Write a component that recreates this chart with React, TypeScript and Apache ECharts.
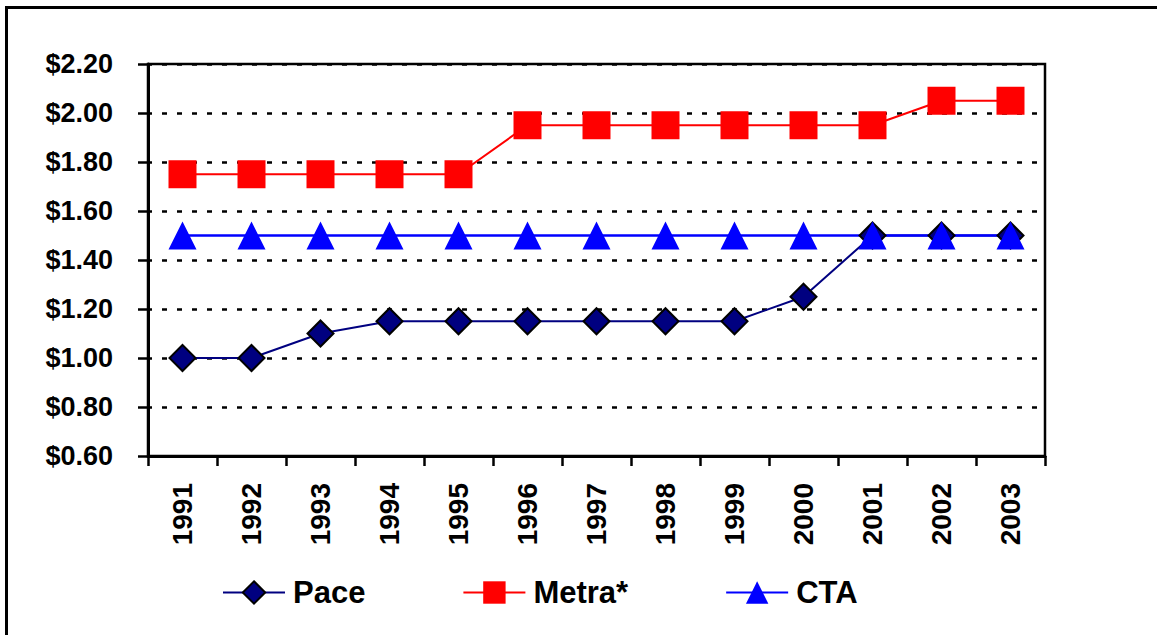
import React, { useEffect, useRef } from "react";
import * as echarts from "echarts";

// Fare history by year for the three transit operators
const years = ["1991", "1992", "1993", "1994", "1995", "1996", "1997", "1998", "1999", "2000", "2001", "2002", "2003"];
const pace = [1.0, 1.0, 1.1, 1.15, 1.15, 1.15, 1.15, 1.15, 1.15, 1.25, 1.5, 1.5, 1.5];
const metra = [1.75, 1.75, 1.75, 1.75, 1.75, 1.95, 1.95, 1.95, 1.95, 1.95, 1.95, 2.05, 2.05];
const cta = [1.5, 1.5, 1.5, 1.5, 1.5, 1.5, 1.5, 1.5, 1.5, 1.5, 1.5, 1.5, 1.5];

// Value axis range
const yMin = 0.6;
const yMax = 2.2;
const yStep = 0.2;

const FONT = "'Liberation Sans', Arial, Helvetica, sans-serif";

export default function App() {
  const ref = useRef<HTMLDivElement>(null);

  useEffect(() => {
    if (!ref.current) return;
    const chart = echarts.init(ref.current, undefined, { renderer: "svg" });
    chart.setOption({
      animation: false,
      backgroundColor: "#ffffff",
      textStyle: { fontFamily: FONT },
      graphic: [
        {
          type: "rect",
          shape: { x: 6.5, y: 7.5, width: 1200, height: 700 },
          style: { fill: "none", stroke: "#000", lineWidth: 3 },
          silent: true,
        },
      ],
      grid: {
        left: 148,
        right: 112,
        top: 64,
        bottom: 179,
        show: true,
        borderColor: "#000",
        borderWidth: 2.5,
        backgroundColor: "transparent",
      },
      legend: {
        left: 217,
        top: 572,
        itemWidth: 62,
        itemHeight: 28,
        itemGap: 97,
        data: ["Pace", "Metra*", "CTA"],
        textStyle: {
          fontFamily: FONT,
          fontWeight: "bold",
          fontSize: 31,
          color: "#000",
          padding: [0, 0, 0, 3],
        },
      },
      xAxis: {
        type: "category",
        data: years,
        boundaryGap: true,
        axisLine: { show: true, lineStyle: { color: "#000", width: 3 } },
        axisTick: { show: true, length: 10, alignWithLabel: false, lineStyle: { color: "#000", width: 2.5 } },
        axisLabel: {
          rotate: 90,
          margin: 27,
          fontFamily: FONT,
          fontWeight: "bold",
          fontSize: 28,
          color: "#000",
        },
        splitLine: { show: false },
      },
      yAxis: {
        type: "value",
        min: yMin,
        max: yMax,
        interval: yStep,
        axisLine: { show: true, lineStyle: { color: "#000", width: 3 } },
        axisTick: { show: true, length: 10, lineStyle: { color: "#000", width: 2.5 } },
        axisLabel: {
          margin: 35,
          fontFamily: FONT,
          fontWeight: "bold",
          fontSize: 27,
          color: "#000",
          formatter: (v: number) => "$" + v.toFixed(2),
        },
        splitLine: {
          show: true,
          lineStyle: { color: "#000", width: 2.5, type: [5, 10], dashOffset: 1 },
        },
      },
      series: [
        {
          name: "Pace",
          type: "line",
          data: pace,
          symbol: "diamond",
          symbolSize: [26, 26],
          lineStyle: { color: "#000080", width: 2 },
          itemStyle: { color: "#000080", borderColor: "#000", borderWidth: 2 },
        },
        {
          name: "Metra*",
          type: "line",
          data: metra,
          symbol: "rect",
          symbolSize: [28, 28],
          lineStyle: { color: "#ff0000", width: 2 },
          itemStyle: { color: "#ff0000", borderColor: "#ff0000", borderWidth: 0 },
        },
        {
          name: "CTA",
          type: "line",
          data: cta,
          symbol: "triangle",
          symbolSize: [28, 28],
          lineStyle: { color: "#0000ff", width: 2.5 },
          itemStyle: { color: "#0000ff", borderColor: "#0000ff", borderWidth: 0 },
        },
      ],
    });
    return () => chart.dispose();
  }, []);

  return (
    <div
      ref={ref}
      style={{ position: "fixed", left: 0, top: 0, width: 1157, height: 635 }}
    />
  );
}
